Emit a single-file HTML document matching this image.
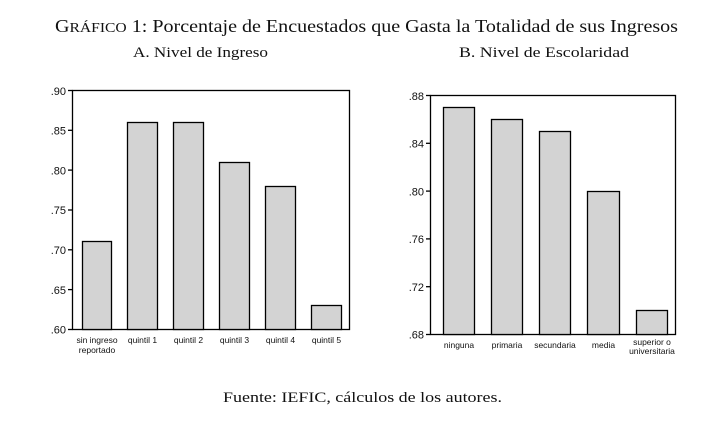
<!DOCTYPE html>
<html><head><meta charset="utf-8"><style>
body{margin:0;background:#fff;width:727px;height:431px;overflow:hidden}
svg{display:block}
.s{font-family:"Liberation Serif",serif;fill:#111}
.a{font-family:"Liberation Sans",sans-serif;fill:#111}
</style></head><body>
<svg width="727" height="431" viewBox="0 0 727 431">
<text class="s" x="55" y="32" font-size="18" textLength="623" lengthAdjust="spacingAndGlyphs">G<tspan font-size="14">RÁFICO</tspan> 1: Porcentaje de Encuestados que Gasta la Totalidad de sus Ingresos</text>
<text class="s" x="133" y="57" font-size="15" textLength="135" lengthAdjust="spacingAndGlyphs">A. Nivel de Ingreso</text>
<text class="s" x="459" y="57" font-size="15" textLength="170" lengthAdjust="spacingAndGlyphs">B. Nivel de Escolaridad</text>
<text class="s" x="223" y="402" font-size="15" textLength="279" lengthAdjust="spacingAndGlyphs">Fuente: IEFIC, cálculos de los autores.</text>
<g stroke="#000" stroke-width="1.3" fill="#d3d3d3">
<rect x="72.5" y="90.5" width="277" height="239" fill="#fff"/>
<rect x="82.5" y="241.5" width="29" height="88"/>
<rect x="127.5" y="122.5" width="30" height="207"/>
<rect x="173.5" y="122.5" width="30" height="207"/>
<rect x="219.5" y="162.5" width="30" height="167"/>
<rect x="265.5" y="186.5" width="30" height="143"/>
<rect x="311.5" y="305.5" width="30" height="24"/>
<line x1="68" y1="90.5" x2="72.5" y2="90.5"/><line x1="68" y1="130.3" x2="72.5" y2="130.3"/><line x1="68" y1="170.1" x2="72.5" y2="170.1"/><line x1="68" y1="210" x2="72.5" y2="210"/><line x1="68" y1="249.8" x2="72.5" y2="249.8"/><line x1="68" y1="289.6" x2="72.5" y2="289.6"/><line x1="68" y1="329.5" x2="72.5" y2="329.5"/>
<rect x="430.5" y="95.5" width="245" height="239" fill="#fff"/>
<rect x="443.5" y="107.5" width="31" height="227"/>
<rect x="491.5" y="119.5" width="31" height="215"/>
<rect x="539.5" y="131.5" width="31" height="203"/>
<rect x="587.5" y="191.5" width="32" height="143"/>
<rect x="636.5" y="310.5" width="31" height="24"/>
<line x1="426" y1="95.5" x2="430.5" y2="95.5"/><line x1="426" y1="143.3" x2="430.5" y2="143.3"/><line x1="426" y1="191.1" x2="430.5" y2="191.1"/><line x1="426" y1="238.9" x2="430.5" y2="238.9"/><line x1="426" y1="286.7" x2="430.5" y2="286.7"/><line x1="426" y1="334.5" x2="430.5" y2="334.5"/>
</g>
<g class="a" font-size="11" text-anchor="end">
<text x="66" y="95">.90</text><text x="66" y="134.5">.85</text><text x="66" y="174.5">.80</text><text x="66" y="214">.75</text><text x="66" y="254">.70</text><text x="66" y="294">.65</text><text x="66" y="333.5">.60</text>
<text x="424" y="100">.88</text><text x="424" y="147.5">.84</text><text x="424" y="195.5">.80</text><text x="424" y="243">.76</text><text x="424" y="291">.72</text><text x="424" y="338.5">.68</text>
</g>
<g class="a" font-size="8.5" text-anchor="middle">
<text x="97" y="343">sin ingreso</text><text x="97" y="353">reportado</text>
<text x="142.5" y="343">quintil 1</text><text x="188.5" y="343">quintil 2</text><text x="234.5" y="343">quintil 3</text><text x="280.5" y="343">quintil 4</text><text x="326.5" y="343">quintil 5</text>
<text x="459" y="348">ninguna</text><text x="507" y="348">primaria</text><text x="555" y="348">secundaria</text><text x="603.5" y="348">media</text>
<text x="652" y="345">superior o</text><text x="652" y="354">universitaria</text>
</g>
</svg>
</body></html>
